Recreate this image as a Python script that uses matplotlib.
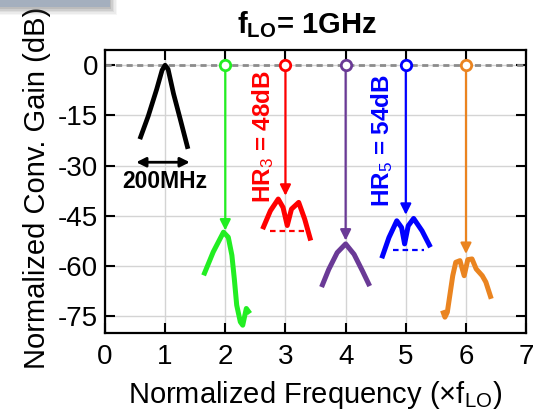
import numpy as np
import matplotlib
matplotlib.use("Agg")
import matplotlib.pyplot as plt
from matplotlib.patches import Rectangle

plt.rcParams["font.family"] = ["Liberation Sans", "DejaVu Sans"]
plt.rcParams["mathtext.fontset"] = "custom"
plt.rcParams["mathtext.rm"] = "Liberation Sans"
plt.rcParams["mathtext.bf"] = "Liberation Sans:bold"
plt.rcParams["mathtext.it"] = "Liberation Sans:italic"

# ---- data -------------------------------------------------------------
# fundamental response around f_LO
fund_x = [0.58, 0.72, 0.86, 0.95, 1.00, 1.05, 1.14, 1.25, 1.38]
fund_y = [-22.1, -15.2, -7.2, -1.5, 0.0, -1.2, -8.5, -16.0, -25.0]

# harmonic responses
h2_x = [1.64, 1.80, 1.97, 2.05, 2.11, 2.15, 2.19, 2.25, 2.29, 2.32, 2.35, 2.41]
h2_y = [-62.8, -55.8, -49.9, -51.4, -56.8, -63.8, -71.7, -76.7, -77.7, -75.2, -72.7, -74.2]

h3_x = [2.62, 2.75, 2.88, 2.96, 3.03, 3.10, 3.22, 3.32, 3.42]
h3_y = [-49.0, -43.5, -40.0, -42.5, -47.9, -43.0, -41.0, -46.0, -52.4]

h4_x = [3.60, 3.72, 3.86, 4.00, 4.14, 4.28, 4.40]
h4_y = [-66.3, -61.0, -56.0, -53.4, -56.5, -61.5, -66.0]

h5_x = [4.60, 4.72, 4.85, 4.93, 4.98, 5.04, 5.13, 5.27, 5.41]
h5_y = [-57.7, -51.5, -46.5, -48.5, -53.4, -48.0, -45.8, -49.5, -54.4]

h6_x = [5.61, 5.65, 5.69, 5.78, 5.83, 5.90, 5.97, 6.03, 6.10, 6.17, 6.27, 6.33, 6.42]
h6_y = [-73.3, -75.3, -73.8, -62.9, -58.9, -58.4, -62.9, -58.1, -57.9, -60.9, -62.9, -64.8, -69.8]

harm_n = [2, 3, 4, 5, 6]
harm_tip = [-49.4, -39.0, -52.4, -44.7, -56.4]
harm_colors = ["#22ee22", "#ff0000", "#6a3a96", "#0000ff", "#ea8420"]

# HR reference levels (dashed)
hr3_level, hr3_span = -49.6, (2.75, 3.30)
hr5_level, hr5_span = -55.2, (4.78, 5.31)

x_ticks = [0, 1, 2, 3, 4, 5, 6, 7]
y_ticks = [0, -15, -30, -45, -60, -75]

# ---- figure ------------------------------------------------------------
fig = plt.figure(figsize=(5.38, 4.11), dpi=100)
ax = fig.add_axes([0.195, 0.190, 0.783, 0.688])

ax.set_xlim(0, 7)
ax.set_ylim(-80, 4.5)
ax.set_xticks(x_ticks)
ax.set_yticks(y_ticks)
ax.set_xticklabels([str(t) for t in x_ticks])
ax.set_yticklabels([str(t) for t in y_ticks])
ax.grid(True, color="#d4d4d4", lw=1.0)
ax.set_axisbelow(True)
ax.tick_params(direction="in", length=7, width=1.5, top=True, right=True,
               labelsize=20, pad=5)
ax.tick_params(axis="x", pad=8)
for s in ax.spines.values():
    s.set_linewidth(1.6)

# 0 dB reference
ax.axhline(0, color="#8c8c8c", lw=2.0, ls=(0, (2.2, 1.6)), zorder=2)

# fundamental
ax.plot(fund_x, fund_y, color="black", lw=3.4, solid_capstyle="butt", zorder=3)
ax.annotate("", xy=(0.52, -29), xytext=(1.41, -29),
            arrowprops=dict(arrowstyle="<|-|>", color="black", lw=2,
                            mutation_scale=14, shrinkA=0, shrinkB=0))
ax.text(1.0, -34.8, "200MHz", ha="center", va="center", fontsize=16.5,
        fontweight="bold")

curves = [(h2_x, h2_y), (h3_x, h3_y), (h4_x, h4_y), (h5_x, h5_y), (h6_x, h6_y)]
for n, tip, c, (cx, cy) in zip(harm_n, harm_tip, harm_colors, curves):
    ax.plot(cx, cy, color=c, lw=3.6, solid_capstyle="butt",
            solid_joinstyle="round", zorder=3)
    ax.annotate("", xy=(n, tip), xytext=(n, 0),
                arrowprops=dict(arrowstyle="-|>", color=c, lw=1.6,
                                mutation_scale=16, shrinkA=4, shrinkB=0),
                zorder=4)
    ax.plot([n], [0], marker="o", ms=7.5, mfc="white", mec=c, mew=2,
            zorder=5, clip_on=False)

ax.plot(hr3_span, [hr3_level, hr3_level], color="#ff0000", lw=1.6,
        ls=(0, (2.5, 1.8)), zorder=3)
ax.plot(hr5_span, [hr5_level, hr5_level], color="#0000ff", lw=1.6,
        ls=(0, (2.5, 1.8)), zorder=3)

ax.text(2.63, -21.4, r"HR$_3$ = 48dB", rotation=90, ha="center", va="center",
        color="#ff0000", fontsize=17.5, fontweight="bold")
ax.text(4.61, -22.6, r"HR$_5$ = 54dB", rotation=90, ha="center", va="center",
        color="#0000ff", fontsize=17.5, fontweight="bold")

ax.set_xlabel(r"Normalized Frequency (×$\mathrm{f}_{\mathrm{LO}}$)", fontsize=21)
ax.set_ylabel("Normalized Conv. Gain (dB)", fontsize=21)
ax.xaxis.set_label_coords(0.5, -0.162)
ax.yaxis.set_label_coords(-0.128, 0.514)

fig.text(0.571, 1 - 33 / 411, r"$\mathbf{f_{LO}}$= 1GHz", ha="center",
         va="baseline", fontsize=21, fontweight="bold")

# slide header strip with soft shadow in the top-left corner
for i, a in enumerate([0.05, 0.07, 0.09, 0.12, 0.16]):
    off = 7 - i * 1.4
    fig.patches.append(Rectangle((0, 1 - (8 + off) / 411), (110 + off) / 538,
                                 (8 + off) / 411, transform=fig.transFigure,
                                 color="#606060", alpha=a, lw=0, zorder=10))
fig.patches.append(Rectangle((0, 1 - 7 / 411), 110 / 538, 7 / 411,
                             transform=fig.transFigure, color="#a4afbe",
                             lw=0, zorder=11))

fig.savefig("out.png", dpi=100)
